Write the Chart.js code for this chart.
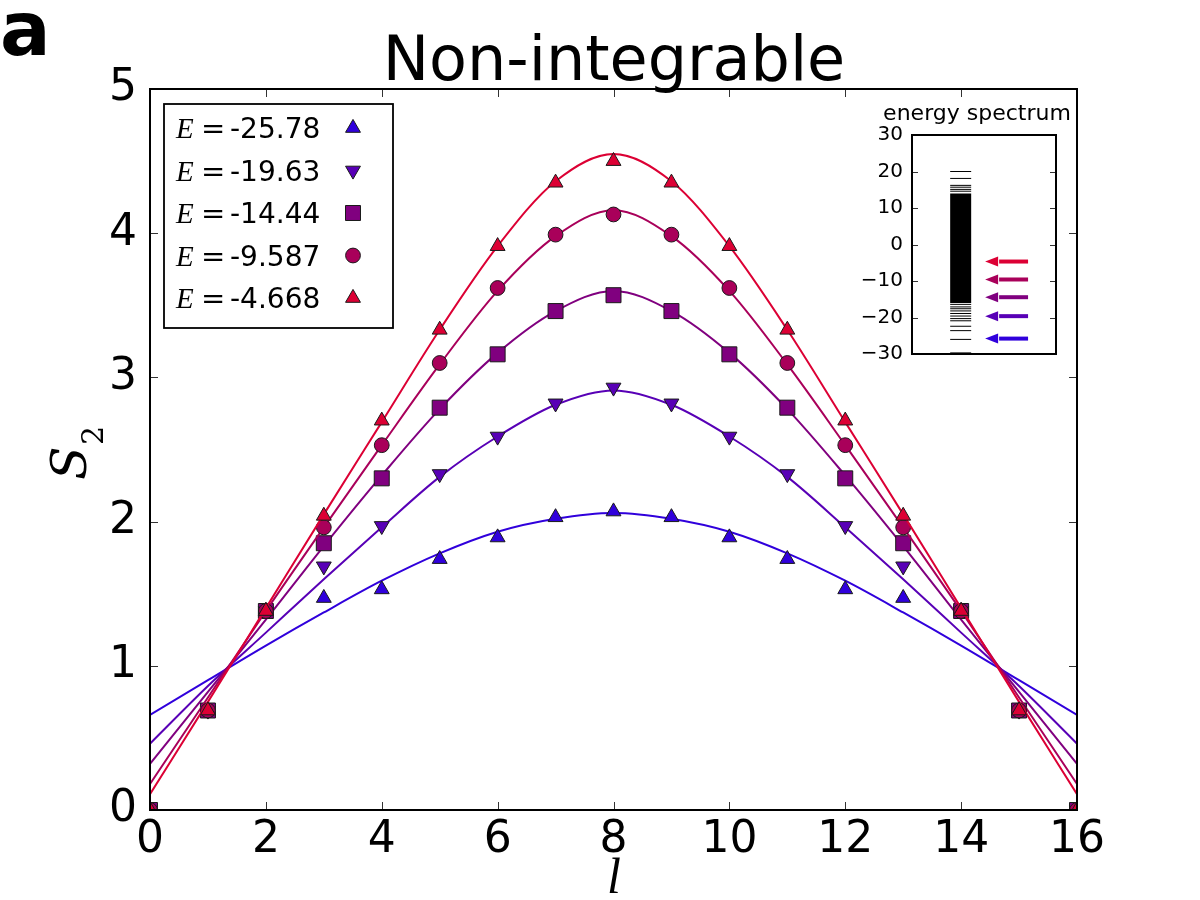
<!DOCTYPE html>
<html><head><meta charset="utf-8">
<script src="https://cdn.jsdelivr.net/npm/chart.js@4.4.0/dist/chart.umd.min.js"></script>
<style>
html,body{margin:0;padding:0;background:#fff;}
#wrap{position:relative;width:1200px;height:900px;background:#fff;}
#main{position:absolute;left:0;top:0;width:1200px;height:900px;}
#inset{position:absolute;left:840px;top:95px;width:240px;height:280px;}
</style></head><body>
<div id="wrap"><canvas id="main" width="1200" height="900"></canvas><canvas id="inset" width="240" height="280"></canvas></div>
<script>
// ---------- data ----------
const lValues = [0,1,2,3,4,5,6,7,8,9,10,11,12,13,14,15,16];
const energyLabels = ['-25.78','-19.63','-14.44','-9.587','-4.668'];
const energyValues = [-25.78,-19.63,-14.44,-9.587,-4.668];
// measured S2 (markers)
const s2E1 = [0,0.69,1.38,1.47,1.53,1.74,1.89,2.03,2.07,2.03,1.89,1.74,1.53,1.47,1.38,0.69,0];
const s2E2 = [0,0.69,1.38,1.69,1.97,2.33,2.59,2.82,2.93,2.82,2.59,2.33,1.97,1.69,1.38,0.69,0];
const s2E3 = [0,0.69,1.38,1.85,2.30,2.79,3.16,3.46,3.57,3.46,3.16,2.79,2.30,1.85,1.38,0.69,0];
const s2E4 = [0,0.69,1.38,1.96,2.53,3.10,3.62,3.99,4.13,3.99,3.62,3.10,2.53,1.96,1.38,0.69,0];
const s2E5 = [0,0.69,1.38,2.04,2.70,3.33,3.91,4.35,4.50,4.35,3.91,3.33,2.70,2.04,1.38,0.69,0];
// fitted curves, read at each l
const fitE1 = [0.66,0.90,1.14,1.37,1.59,1.78,1.93,2.02,2.06,2.02,1.93,1.78,1.59,1.37,1.14,0.90,0.66];
const fitE2 = [0.46,0.86,1.23,1.60,1.96,2.31,2.59,2.81,2.91,2.81,2.59,2.31,1.96,1.60,1.23,0.86,0.46];
const fitE3 = [0.32,0.82,1.32,1.83,2.32,2.78,3.17,3.46,3.60,3.46,3.17,2.78,2.32,1.83,1.32,0.82,0.32];
const fitE4 = [0.18,0.78,1.38,1.96,2.53,3.09,3.60,3.98,4.16,3.98,3.60,3.09,2.53,1.96,1.38,0.78,0.18];
const fitE5 = [0.11,0.75,1.40,2.05,2.69,3.33,3.91,4.36,4.55,4.36,3.91,3.33,2.69,2.05,1.40,0.75,0.11];
const xTicks = [0,2,4,6,8,10,12,14,16];
const yTicks = [0,1,2,3,4,5];
// energy spectrum inset
const spectrumLevels = [20.0,18.1,16.2,15.7,15.1,14.6,-16.4,-17.1,-17.6,-18.2,-18.9,-19.6,-20.3,-20.9,-22.4,-23.6,-26.0,-29.7];
const spectrumDenseBand = [-16.0, 14.0];
const spectrumTicks = [-30,-20,-10,0,10,20,30];

// ---------- styles ----------
const colors = ['#3000dc','#5800b6','#80007f','#a9005a','#dc0034'];
const markerStyles = [
  {pointStyle:'triangle', rotation:0, radius:8.6},
  {pointStyle:'triangle', rotation:180, radius:8.6},
  {pointStyle:'rect', rotation:0, radius:10.6},
  {pointStyle:'circle', rotation:0, radius:7.4},
  {pointStyle:'triangle', rotation:0, radius:8.6}
];
const measured = [s2E1,s2E2,s2E3,s2E4,s2E5];
const fits = [fitE1,fitE2,fitE3,fitE4,fitE5];

const datasets = [];
measured.forEach((vals, i) => {
  datasets.push({
    type:'line', label:'fit '+energyLabels[i],
    data: lValues.map((l,k)=>({x:l, y:fits[i][k]})),
    borderColor: colors[i], borderWidth: 2, pointRadius: 0,
    cubicInterpolationMode:'monotone', fill:false, order: 10 - 2*i
  });
  datasets.push({
    type:'scatter', label:'E = '+energyLabels[i],
    data: lValues.map((l,k)=>({x:l, y:vals[k]})),
    backgroundColor: colors[i], borderColor:'#1a1a1a', borderWidth:1,
    pointStyle: markerStyles[i].pointStyle, rotation: markerStyles[i].rotation,
    pointRadius: markerStyles[i].radius, pointHoverRadius: markerStyles[i].radius,
    showLine:false, order: 9 - 2*i
  });
});

const fontSans = '"DejaVu Sans", sans-serif';
const fontSerif = '"Liberation Serif", "DejaVu Serif", serif';

const framePlugin = {
  id:'frameTicks',
  afterDatasetsDraw(chart, args, o) {
    const {ctx, chartArea:a, scales} = chart;
    const xs = scales.x, ys = scales.y;
    ctx.save();
    ctx.strokeStyle = o.tickColor; ctx.lineWidth = 1;
    ctx.beginPath();
    o.xTicks.forEach(v => {
      const px = Math.round(xs.getPixelForValue(v)) + 0.5;
      ctx.moveTo(px, a.bottom); ctx.lineTo(px, a.bottom - o.len);
      ctx.moveTo(px, a.top); ctx.lineTo(px, a.top + o.len);
    });
    o.yTicks.forEach(v => {
      const py = Math.round(ys.getPixelForValue(v)) + 0.5;
      ctx.moveTo(a.left, py); ctx.lineTo(a.left + o.len, py);
      ctx.moveTo(a.right, py); ctx.lineTo(a.right - o.len, py);
    });
    ctx.stroke();
    ctx.strokeStyle = '#000'; ctx.lineWidth = o.frameWidth;
    ctx.strokeRect(a.left, a.top, a.right - a.left, a.bottom - a.top);
    ctx.restore();
  }
};

const textPlugin = {
  id:'texts',
  afterDraw(chart) {
    const ctx = chart.ctx;
    ctx.save();
    ctx.fillStyle = '#000';
    ctx.textBaseline = 'alphabetic';
    // panel letter
    ctx.font = 'bold 75px ' + fontSans; ctx.textAlign = 'left';
    ctx.fillText('a', 0, 55);
    // title
    ctx.font = '62px ' + fontSans; ctx.textAlign = 'center';
    ctx.fillText('Non-integrable', 614, 80);
    // x label
    ctx.font = 'italic 50px ' + fontSerif;
    ctx.fillText('l', 614, 893);
    // y label S_2
    ctx.save();
    ctx.translate(86, 480); ctx.rotate(-Math.PI/2);
    ctx.textAlign = 'left';
    ctx.font = 'italic 49px "DejaVu Serif", serif';
    ctx.fillText('S', 0, 0);
    ctx.font = '30px "DejaVu Serif", serif';
    ctx.fillText('2', 35, 17);
    ctx.restore();
    // legend
    const L = {left:164, top:104, right:393, bottom:328};
    ctx.lineWidth = 1.8; ctx.strokeStyle = '#000';
    ctx.strokeRect(L.left, L.top, L.right - L.left, L.bottom - L.top);
    const rowY = [128,170.5,213,255.5,298];
    energyLabels.forEach((lab, i) => {
      const base = rowY[i] + 10;
      ctx.fillStyle = '#000'; ctx.textAlign = 'left';
      ctx.font = 'italic 29px ' + fontSerif;
      ctx.fillText('E', 176, base);
      ctx.font = '29px ' + fontSans;
      ctx.fillText('=', 201, base);
      ctx.font = '28px ' + fontSans;
      ctx.fillText(lab, 230, base);
      const ds = chart.data.datasets[2*i+1];
      ctx.fillStyle = ds.backgroundColor; ctx.strokeStyle = ds.borderColor; ctx.lineWidth = ds.borderWidth;
      Chart.helpers.drawPoint(ctx, {pointStyle: ds.pointStyle, rotation: ds.rotation, radius: ds.pointRadius, borderWidth: ds.borderWidth}, 353, rowY[i]);
    });
    ctx.restore();
  }
};

new Chart(document.getElementById('main'), {
  data: {datasets},
  options: {
    responsive:false, animation:false, devicePixelRatio:1,
    layout:{padding:{left:0, top:89, right:123, bottom:0}},
    plugins:{legend:{display:false}, tooltip:{enabled:false}, title:{display:false},
      frameTicks:{xTicks, yTicks, len:8, tickColor:'#333', frameWidth:2}},
    scales:{
      x:{type:'linear', min:0, max:16, afterFit(s){s.height = 90;},
        afterBuildTicks(s){s.ticks = xTicks.map(v=>({value:v}));},
        grid:{display:false, drawTicks:false}, border:{display:false},
        ticks:{font:{family:fontSans, size:44, lineHeight:1.2}, color:'#000', padding:4, maxRotation:0, autoSkip:false}},
      y:{type:'linear', min:0, max:5, afterFit(s){s.width = 150;},
        afterBuildTicks(s){s.ticks = yTicks.map(v=>({value:v}));},
        grid:{display:false, drawTicks:false}, border:{display:false},
        ticks:{font:{family:fontSans, size:44, lineHeight:1.2}, color:'#000', padding:13, autoSkip:false}}
    }
  },
  plugins:[framePlugin, textPlugin]
});

// ---------- inset ----------
const insetPlugin = {
  id:'insetDeco',
  afterDatasetsDraw(chart, args, o) {
    const {ctx, chartArea:a, scales} = chart;
    const xs = scales.x, ys = scales.y;
    ctx.save();
    // arrows
    energyValues.forEach((E, i) => {
      const py = ys.getPixelForValue(E);
      const tail = xs.getPixelForValue(o.arrowTail), headBase = xs.getPixelForValue(o.arrowHeadBase), tip = xs.getPixelForValue(o.arrowTip);
      ctx.strokeStyle = colors[i]; ctx.fillStyle = colors[i];
      ctx.lineWidth = 4; ctx.lineCap = 'butt';
      ctx.beginPath(); ctx.moveTo(tail, py); ctx.lineTo(headBase + 1, py); ctx.stroke();
      ctx.beginPath(); ctx.moveTo(tip, py); ctx.lineTo(headBase, py - 5); ctx.lineTo(headBase, py + 5); ctx.closePath(); ctx.fill();
    });
    // ticks
    ctx.strokeStyle = '#333'; ctx.lineWidth = 1;
    ctx.beginPath();
    spectrumTicks.forEach(v => {
      const py = Math.round(ys.getPixelForValue(v)) + 0.5;
      ctx.moveTo(a.left, py); ctx.lineTo(a.left + 6, py);
      ctx.moveTo(a.right, py); ctx.lineTo(a.right - 6, py);
    });
    ctx.stroke();
    ctx.strokeStyle = '#000'; ctx.lineWidth = 2;
    ctx.strokeRect(a.left, a.top, a.right - a.left, a.bottom - a.top);
    // title
    ctx.fillStyle = '#000'; ctx.font = '22px ' + fontSans; ctx.textAlign = 'center'; ctx.textBaseline = 'alphabetic';
    ctx.fillText('energy spectrum', 137, 25);
    ctx.restore();
  }
};

new Chart(document.getElementById('inset'), {
  data: {datasets:[
    {type:'line', label:'dense levels', data: spectrumDenseBand.map(E=>({x:0.338, y:E})),
      borderColor:'#000', borderWidth:21, borderCapStyle:'butt', pointRadius:0, fill:false},
    {type:'scatter', label:'levels', data: spectrumLevels.map(E=>({x:0.338, y:E})),
      pointStyle:'line', pointRadius:10.5, borderColor:'#000', borderWidth:1, backgroundColor:'#000', showLine:false}
  ]},
  options:{
    responsive:false, animation:false, devicePixelRatio:1,
    layout:{padding:{left:0, top:40, right:24, bottom:16}},
    plugins:{legend:{display:false}, tooltip:{enabled:false},
      insetDeco:{arrowTail:0.806, arrowHeadBase:0.598, arrowTip:0.508}},
    scales:{
      x:{type:'linear', min:0, max:1, display:false},
      y:{type:'linear', min:-30, max:30, afterFit(s){s.width = 72;},
        afterBuildTicks(s){s.ticks = spectrumTicks.map(v=>({value:v}));},
        grid:{display:false, drawTicks:false}, border:{display:false},
        ticks:{font:{family:fontSans, size:20}, color:'#000', padding:9, autoSkip:false,
          callback:v => v < 0 ? '\u2212' + Math.abs(v) : String(v)}}
    }
  },
  plugins:[insetPlugin]
});
</script>
</body></html>
